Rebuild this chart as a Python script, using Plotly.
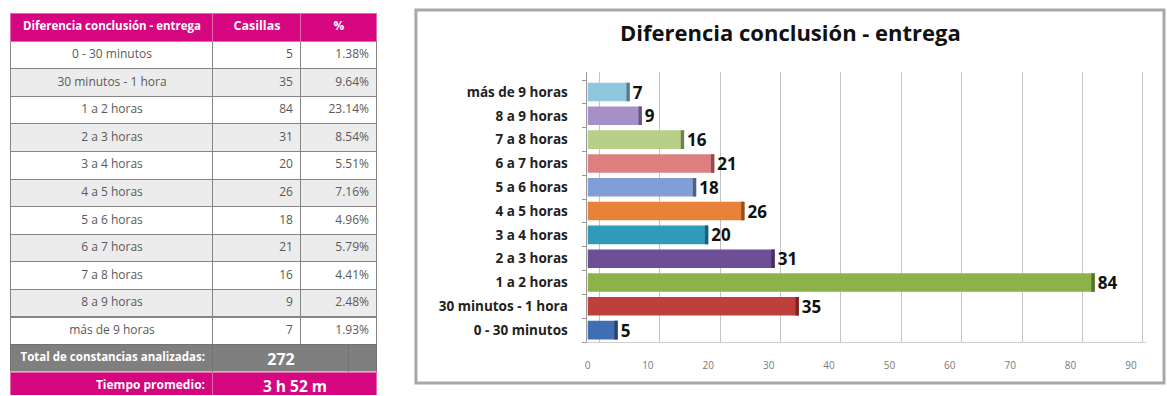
import plotly.graph_objects as go

# ---- data -------------------------------------------------------------
categorias = [
    "0 - 30 minutos", "30 minutos - 1 hora", "1 a 2 horas", "2 a 3 horas",
    "3 a 4 horas", "4 a 5 horas", "5 a 6 horas", "6 a 7 horas",
    "7 a 8 horas", "8 a 9 horas", "más de 9 horas",
]
casillas = [5, 35, 84, 31, 20, 26, 18, 21, 16, 9, 7]
porcentajes = ["1.38%", "9.64%", "23.14%", "8.54%", "5.51%", "7.16%",
               "4.96%", "5.79%", "4.41%", "2.48%", "1.93%"]
total_constancias = 272
tiempo_promedio = "3 h 52 m"
etiqueta_total = "Total de constancias analizadas:"
etiqueta_tiempo = "Tiempo promedio:"
titulo = "Diferencia conclusión - entrega"
encabezados = ["Diferencia conclusión - entrega", "Casillas", "%"]
eje_x_ticks = [0, 10, 20, 30, 40, 50, 60, 70, 80, 90]

# ---- styles -----------------------------------------------------------
W, H = 1167, 396
FONT = "Open Sans"
MAGENTA = "#d5067f"
GRIS = "#7f7f7f"
bar_colors = ["#3f6fb2", "#bf3f3c", "#8db24a", "#6d4f98", "#2f9bb8", "#e8823a",
              "#819fd6", "#dd7f7f", "#b7cf88", "#a591c8", "#8fc7de"]


def darker(hex_color, f=0.62):
    h = hex_color.lstrip("#")
    r, g, b = (int(h[i:i + 2], 16) for i in (0, 2, 4))
    return "#{:02x}{:02x}{:02x}".format(int(r * f), int(g * f), int(b * f))


def nb(s):
    # keep single-line labels from wrapping inside table cells
    return str(s).replace(" ", "\u00a0")


def px(x):
    return x / W


def py(y):
    return 1 - y / H


n = len(categorias)
row_fill = ["#ffffff" if i % 2 == 0 else "#ececec" for i in range(n)]
TX = [px(8), px(375)]
TOP, HEAD_H, ROW_H = 13, 28, 27.6
body_end = TOP + HEAD_H + n * ROW_H          # bottom of the data rows
total_end = body_end + 27.4                   # bottom of the total row

fig = go.Figure()

# ---- summary table ----------------------------------------------------
fig.add_trace(go.Table(
    domain=dict(x=TX, y=[py(body_end + 1.2), py(TOP)]),
    columnwidth=[202, 88, 76],
    header=dict(
        values=[nb(h) for h in encabezados],
        fill_color=MAGENTA,
        line=dict(color="#e56aa9", width=1),
        align=["center", "center", "center"],
        font=dict(family=FONT, size=[11.5, 12.5, 12], color="white", weight="bold"),
        height=HEAD_H,
    ),
    cells=dict(
        values=[[nb(c) for c in categorias], casillas, porcentajes],
        fill_color=[row_fill, row_fill, row_fill],
        line=dict(color="#858585", width=1),
        align=["center", "right", "right"],
        font=dict(family=FONT, size=12, color="#5a5a5a"),
        height=ROW_H,
    ),
))

# total row
fig.add_trace(go.Table(
    domain=dict(x=TX, y=[py(total_end), py(body_end)]),
    columnwidth=[202, 136, 28],
    header=dict(
        values=[nb(etiqueta_total), str(total_constancias), ""],
        fill_color=GRIS,
        line=dict(color="#727272", width=1),
        align=["right", "center", "center"],
        font=dict(family=FONT, size=[11.5, 16, 12], color="white", weight="bold"),
        height=total_end - body_end,
    ),
    cells=dict(values=[[], [], []]),
))

# average time row
fig.add_trace(go.Table(
    domain=dict(x=TX, y=[0, py(total_end)]),
    columnwidth=[202, 164],
    header=dict(
        values=[nb(etiqueta_tiempo), nb(tiempo_promedio)],
        fill_color=MAGENTA,
        line=dict(color="#e56aa9", width=1),
        align=["right", "center"],
        font=dict(family=FONT, size=[12, 15.5], color="white", weight="bold"),
        height=H - total_end,
    ),
    cells=dict(values=[[], []]),
))

# ---- bar chart --------------------------------------------------------
fig.add_trace(go.Bar(
    y=categorias, x=casillas, orientation="h",
    width=0.78,
    marker=dict(color=bar_colors, line=dict(width=0)),
    text=casillas, textposition="outside", constraintext="none",
    textfont=dict(family=FONT, size=17, color="#111111", weight="bold"),
    cliponaxis=False,
    hoverinfo="x+y",
))

# darker end caps give the bars a little depth
cap = 0.55
fig.add_trace(go.Bar(
    y=categorias, x=[cap] * n, base=[v - cap for v in casillas],
    orientation="h", width=0.78,
    marker=dict(color=[darker(c) for c in bar_colors], line=dict(width=0)),
    hoverinfo="skip",
))

# carrier for the back-wall grid axis
fig.add_trace(go.Scatter(
    x=[0], y=[categorias[0]], xaxis="x2", yaxis="y",
    mode="markers", marker=dict(opacity=0), hoverinfo="skip",
))

fig.update_layout(
    width=W, height=H,
    margin=dict(l=0, r=0, t=0, b=0),
    paper_bgcolor="white", plot_bgcolor="white",
    barmode="overlay", showlegend=False,
    xaxis=dict(
        domain=[px(586), px(1146)], range=[0, 92.5],
        tickvals=eje_x_ticks, showgrid=False, zeroline=False,
        showline=True, linecolor="#cfcfcf", ticks="",
        tickfont=dict(family=FONT, size=10, color="#7a7a7a"),
        ticklabelstandoff=14,
    ),
    xaxis2=dict(
        overlaying="x", anchor="y", range=[-1.98, 90.52],
        tickvals=eje_x_ticks, showgrid=True, gridcolor="#c4c4c4", gridwidth=1,
        zeroline=False, showticklabels=False, ticks="",
    ),
    yaxis=dict(
        domain=[py(342), py(72)], type="category",
        categoryorder="array", categoryarray=categorias,
        range=[-0.5, 10.84],
        showline=True, linecolor="#9a9a9a",
        ticks="outside", ticklen=4, tickcolor="#9a9a9a", tickson="boundaries",
        tickfont=dict(family=FONT, size=13.5, color="#222222", weight="bold"),
        ticklabelstandoff=16, showgrid=False,
    ),
    annotations=[dict(
        text=titulo, xref="paper", yref="paper",
        x=px(790), y=py(32), xanchor="center", yanchor="middle",
        showarrow=False,
        font=dict(family=FONT, size=22, color="#111111", weight="bold"),
    )],
    shapes=[dict(
        type="rect", xref="paper", yref="paper",
        x0=px(414), x1=px(1164), y0=py(383), y1=py(10),
        line=dict(color="#a8a8a8", width=3), layer="below",
    )],
)

fig.write_html("out.html")
